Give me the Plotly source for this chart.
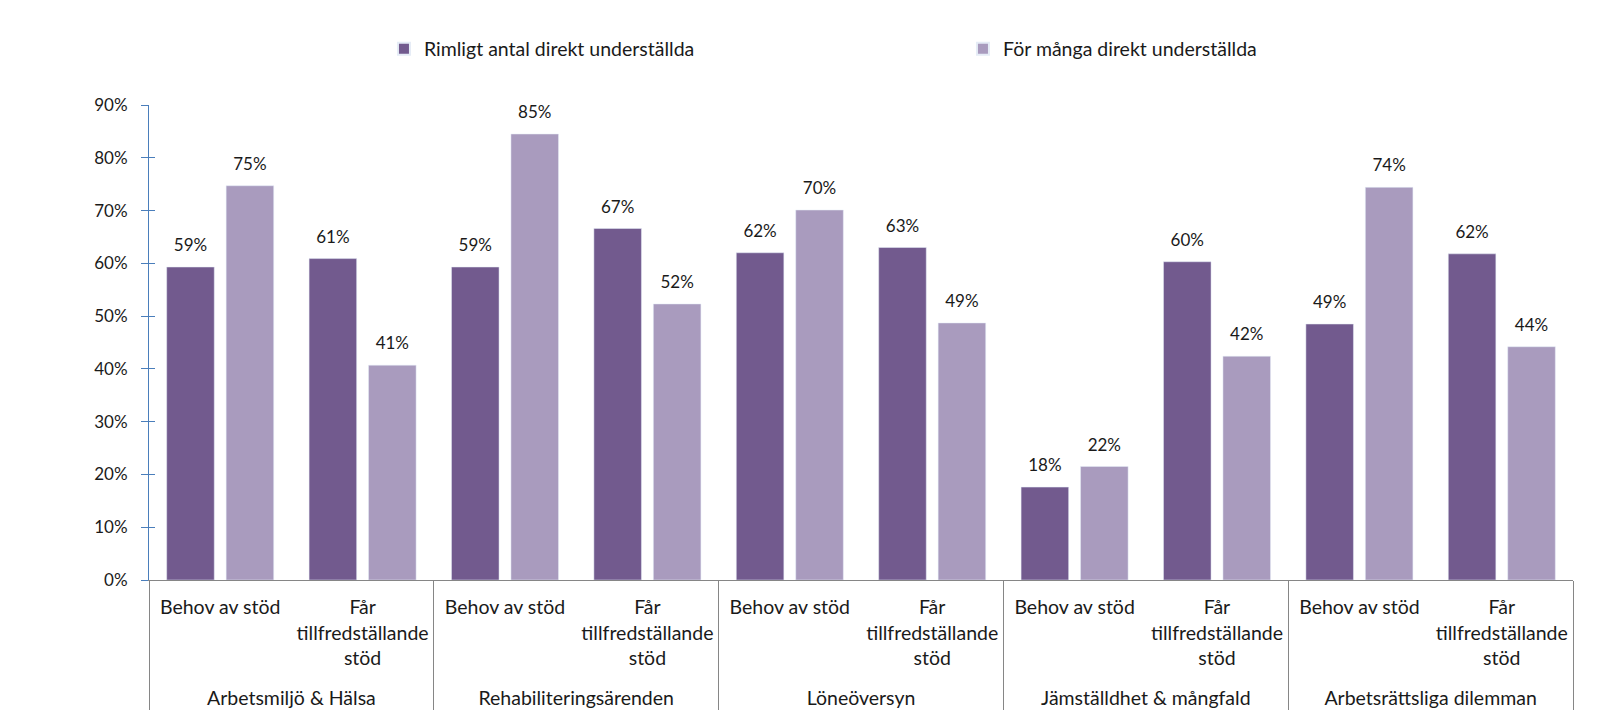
import plotly.graph_objects as go

groups = ["Arbetsmiljö & Hälsa", "Rehabiliteringsärenden", "Löneöversyn",
          "Jämställdhet & mångfald", "Arbetsrättsliga dilemman"]
subcats = ["Behov av stöd", "Får<br>tillfredställande<br>stöd<br> "]
series_names = ["Rimligt antal direkt underställda", "För många direkt underställda"]
rimligt = [0.593, 0.609, 0.593, 0.666, 0.620, 0.630, 0.176, 0.603, 0.485, 0.618]
for_manga = [0.747, 0.407, 0.845, 0.523, 0.701, 0.487, 0.215, 0.424, 0.744, 0.442]
colors = ["#725a8e", "#a99bbe"]

lvl0 = [g for g in groups for _ in subcats]
lvl1 = [s for _ in groups for s in subcats]

font = "Lato"
txt = "#1a1a1a"
fig = go.Figure()
for i, (name, vals, col) in enumerate(zip(series_names, [rimligt, for_manga], colors)):
    fig.add_trace(go.Bar(
        x=[lvl0, lvl1], y=vals, name=name, marker_color=col,
        offsetgroup=str(i), hoverinfo="skip",
    ))
for i, vals in enumerate([rimligt, for_manga]):
    fig.add_trace(go.Scatter(
        x=[lvl0, lvl1], y=vals, mode="markers+text", offsetgroup=str(i),
        marker=dict(size=17, color="rgba(0,0,0,0)"),
        texttemplate="%{y:.0%}", textposition="top center",
        textfont=dict(family=font, size=17, color=txt),
        showlegend=False, hoverinfo="skip", cliponaxis=False,
    ))
# invisible overlay axis to draw the inner half of the crossing y ticks
fig.add_trace(go.Scatter(x=[lvl0[0:1], lvl1[0:1]], y=[None], yaxis="y2",
                         showlegend=False, hoverinfo="skip"))

fig.update_layout(
    width=1623, height=712,
    margin=dict(l=149, r=50, t=105, b=132, autoexpand=False),
    paper_bgcolor="white", plot_bgcolor="white",
    barmode="group", bargap=0.165, bargroupgap=0.2,
    scattermode="group", scattergap=0.165,
    font=dict(family=font, size=19.5, color=txt),
    legend=dict(orientation="h", x=0.165, xanchor="left", xref="paper",
                y=1 - 49 / 712, yanchor="middle", yref="container",
                entrywidth=534, entrywidthmode="pixels",
                font=dict(family=font, size=19.5, color=txt), itemsizing="constant"),
    xaxis=dict(type="multicategory", showline=True, linecolor="#868686", linewidth=1,
               showdividers=True, dividercolor="#868686", dividerwidth=1,
               tickfont=dict(family=font, size=19.5, color=txt), ticks="",
               tickangle=0, ticklabelstandoff=10, automargin=False),
    yaxis=dict(range=[0, 0.9], dtick=0.1, tickformat=".0%", showgrid=False,
               showline=True, linecolor="#4a7ebb", linewidth=1,
               ticks="outside", ticklen=7, tickcolor="#4a7ebb",
               tickfont=dict(family=font, size=17, color=txt), zeroline=False,
               ticklabelstandoff=10, automargin=False),
    yaxis2=dict(overlaying="y", side="left", matches="y", range=[0, 0.9], dtick=0.1,
                showgrid=False, showline=False, zeroline=False,
                ticks="inside", ticklen=6, tickcolor="#4a7ebb",
                showticklabels=False, automargin=False),
)
fig.write_html("out.html", config={"displayModeBar": False},
               post_script="document.body.style.margin='0';document.body.style.overflow='hidden';")
